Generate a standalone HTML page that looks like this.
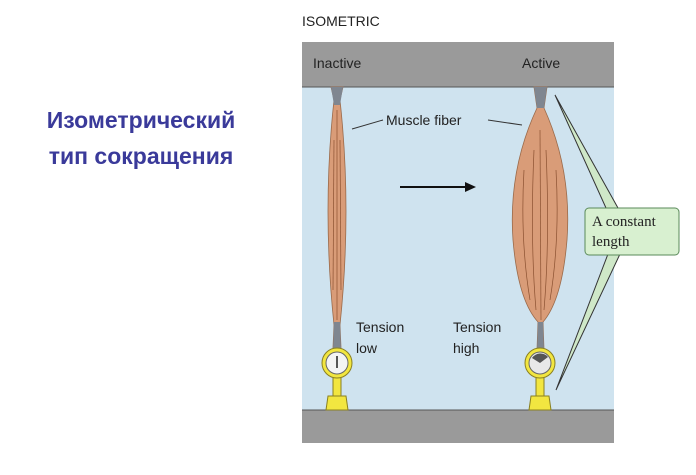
<!DOCTYPE html>
<html><head><meta charset="utf-8"><style>
body{margin:0;width:696px;height:475px;background:#fff;overflow:hidden;position:relative;font-family:"Liberation Sans",sans-serif}
.t{position:absolute;white-space:nowrap}
</style></head><body>
<div class="t" style="left:0;width:282px;top:102px;text-align:center;color:#3a3a9a;font-weight:bold;font-size:23px;line-height:36px">Изометрический<br>тип сокращения</div>
<div class="t" style="left:302px;top:13px;font-size:14px;color:#222">ISOMETRIC</div>
<svg style="position:absolute;left:0;top:0" width="696" height="475">
<rect x="302" y="42" width="312" height="401" fill="#cfe3ef"/>
<rect x="302" y="42" width="312" height="45" fill="#9a9a9a"/>
<rect x="302" y="410" width="312" height="33" fill="#9a9a9a"/>
<line x1="302" y1="87" x2="614" y2="87" stroke="#555" stroke-width="1"/>
<line x1="302" y1="410" x2="614" y2="410" stroke="#555" stroke-width="1"/>
<!-- left fiber -->
<path d="M331,87 L343,87 L340,100 Q352,210 340,325 L341,348 L333,348 L334,325 Q322,210 334,100 Z" fill="#d99c78" stroke="#9a6a4a" stroke-width="0.8"/>
<path d="M331,87 L343,87 L340,105 L334,105 Z" fill="#7f8690"/>
<path d="M334,322 L340,322 L341,350 L333,350 Z" fill="#7f8690"/>
<!-- right fiber -->
<path d="M534,87 L547,87 L544,108 Q572,170 567,240 Q562,300 543,322 L544,350 L537,350 L538,322 Q518,300 513,240 Q508,170 537,108 Z" fill="#d99c78" stroke="#9a6a4a" stroke-width="0.8"/>
<path d="M534,87 L547,87 L544,108 L537,108 Z" fill="#7f8690"/>
<path d="M538,322 L543,322 L544,350 L537,350 Z" fill="#7f8690"/>
<g stroke="#8a5030" stroke-width="0.7" fill="none">
<path d="M524,170 Q520,240 530,300"/><path d="M534,150 Q530,240 536,310"/><path d="M546,150 Q550,240 544,310"/><path d="M556,170 Q560,240 550,300"/><path d="M540,130 L541,320"/>
<path d="M337,110 L337,320"/><path d="M334,140 L333,290"/><path d="M340,140 L341,290"/>
</g>
<!-- gauges -->
<g fill="#f2e640" stroke="#8a8020" stroke-width="1">
<rect x="333" y="376" width="8" height="20"/><path d="M328,396 L346,396 L348,410 L326,410 Z"/>
<circle cx="337" cy="363" r="15"/>
<rect x="536" y="376" width="8" height="20"/><path d="M531,396 L549,396 L551,410 L529,410 Z"/>
<circle cx="540" cy="363" r="15"/>
</g>
<circle cx="337" cy="363" r="11" fill="#f4f4f4" stroke="#666"/>
<line x1="337" y1="356" x2="337" y2="368" stroke="#222" stroke-width="1.5"/>
<circle cx="540" cy="363" r="11" fill="#e8e8e8" stroke="#666"/>
<path d="M540,363 L532,358 A10,10 0 0 1 548,357 Z" fill="#555"/>
<!-- arrow -->
<line x1="400" y1="187" x2="467" y2="187" stroke="#111" stroke-width="2"/>
<path d="M476,187 L465,182 L465,192 Z" fill="#111"/>
<!-- muscle fiber lines -->
<line x1="352" y1="129" x2="383" y2="120" stroke="#333"/>
<line x1="488" y1="120" x2="522" y2="125" stroke="#333"/>
<!-- callout -->
<path d="M555,95 L618,208 L606,208 Z" fill="#cfe8c8" stroke="#333"/>
<path d="M608,254 L556,390 L620,254 Z" fill="#cfe8c8" stroke="#333"/>
<rect x="585" y="208" width="94" height="47" rx="4" fill="#d8f0d0" stroke="#5a8a5a"/>
<text x="592" y="226" font-family="Liberation Serif,serif" font-size="15" fill="#222">A constant</text>
<text x="592" y="246" font-family="Liberation Serif,serif" font-size="15" fill="#222">length</text>
<g font-family="Liberation Sans,sans-serif" font-size="14" fill="#222">
<text x="313" y="68">Inactive</text><text x="522" y="68">Active</text>
<text x="386" y="125">Muscle fiber</text>
<text x="356" y="332">Tension</text><text x="356" y="353">low</text>
<text x="453" y="332">Tension</text><text x="453" y="353">high</text>
</g>
</svg>
</body></html>
